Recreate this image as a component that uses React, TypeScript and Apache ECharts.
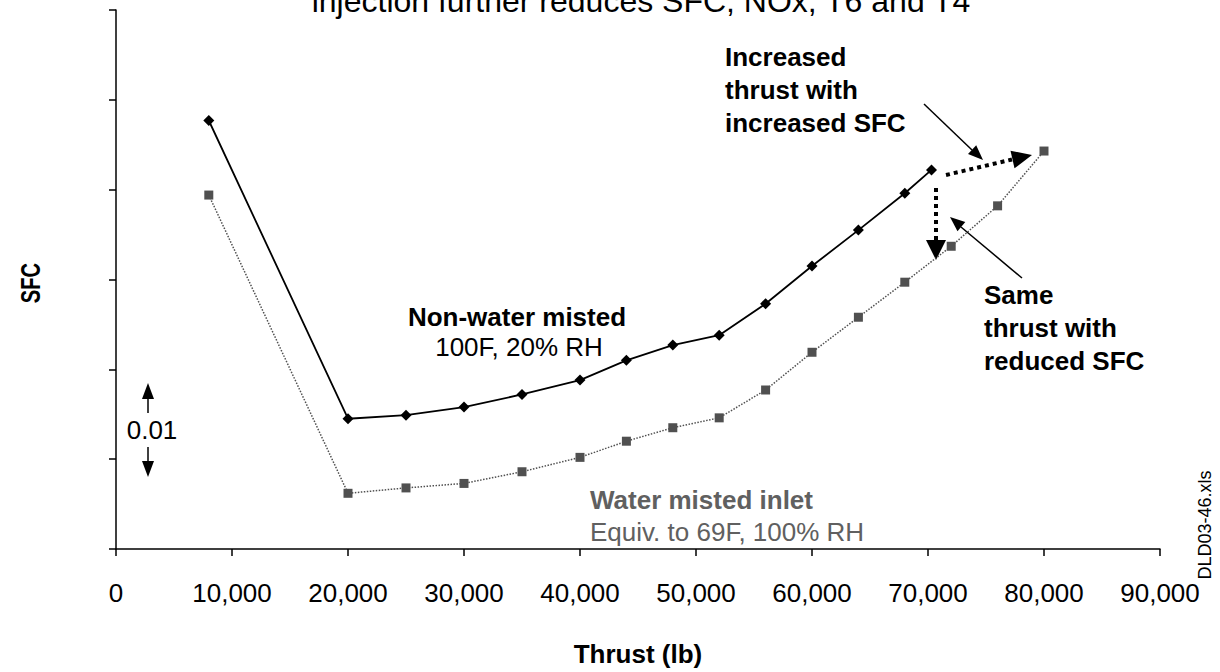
import React, { useEffect, useRef } from "react";
import * as echarts from "echarts";

const thrustDry = [8000, 20000, 25000, 30000, 35000, 40000, 44000, 48000, 52000, 56000, 60000, 64000, 68000, 70300];
const sfcDry = [0.3477, 0.3145, 0.3149, 0.3158, 0.3172, 0.3188, 0.321, 0.3227, 0.3238, 0.3273, 0.3315, 0.3355, 0.3396, 0.3422];
const thrustWet = [8000, 20000, 25000, 30000, 35000, 40000, 44000, 48000, 52000, 56000, 60000, 64000, 68000, 72000, 76000, 80000];
const sfcWet = [0.3394, 0.3062, 0.3068, 0.3073, 0.3086, 0.3102, 0.312, 0.3135, 0.3146, 0.3177, 0.3219, 0.3258, 0.3297, 0.3337, 0.3382, 0.3443];

const FONT = '"Liberation Sans", Arial, sans-serif';

function txt(text: string, x: number, y: number, opts: any = {}) {
  return {
    type: "text",
    x,
    y,
    rotation: opts.rotation || 0,
    scaleX: opts.scaleX || 1,
    scaleY: opts.scaleY || 1,
    style: {
      text,
      fill: opts.fill || "#000",
      font: `${opts.bold ? "bold " : ""}${opts.size || 26}px ${FONT}`,
      align: opts.align || "left",
      verticalAlign: "middle",
    },
  };
}

function line(x1: number, y1: number, x2: number, y2: number, w = 1.5, dash?: number[]) {
  return {
    type: "line",
    shape: { x1, y1, x2, y2 },
    style: { stroke: "#000", lineWidth: w, lineDash: dash || null },
  };
}

function tri(pts: number[][]) {
  return { type: "polygon", shape: { points: pts }, style: { fill: "#000" } };
}

export default function App() {
  const ref = useRef<HTMLDivElement>(null);
  useEffect(() => {
    if (!ref.current) return;
    const chart = echarts.init(ref.current, null, { renderer: "svg" });
    chart.setOption({
      animation: false,
      backgroundColor: "#fff",
      grid: { left: 116, right: 60, top: 10, bottom: 104 },
      xAxis: {
        type: "value",
        min: 0,
        max: 90000,
        interval: 10000,
        name: "Thrust (lb)",
        nameLocation: "middle",
        nameGap: 92,
        nameTextStyle: { fontFamily: FONT, fontWeight: "bold", fontSize: 26, color: "#000" },
        axisLine: { show: true, onZero: false, lineStyle: { color: "#000", width: 1.5 } },
        axisTick: { show: true, length: 7, lineStyle: { color: "#000", width: 1.5 } },
        axisLabel: {
          margin: 31,
          fontFamily: FONT,
          fontSize: 26,
          color: "#000",
          formatter: (v: number) => v.toLocaleString("en-US"),
        },
        splitLine: { show: false },
      },
      yAxis: {
        type: "value",
        min: 0.3,
        max: 0.36,
        interval: 0.01,
        axisLine: { show: true, lineStyle: { color: "#000", width: 1.5 } },
        axisTick: { show: true, length: 7, lineStyle: { color: "#000", width: 1.5 } },
        axisLabel: { show: false },
        splitLine: { show: false },
      },
      series: [
        {
          name: "Water misted inlet",
          type: "line",
          data: thrustWet.map((t, i) => [t, sfcWet[i]]),
          symbol: "rect",
          symbolSize: 9,
          itemStyle: { color: "#505050" },
          lineStyle: { color: "#505050", width: 1.5, type: "dotted" },
          z: 2,
        },
        {
          name: "Non-water misted",
          type: "line",
          data: thrustDry.map((t, i) => [t, sfcDry[i]]),
          symbol: "diamond",
          symbolSize: 11,
          itemStyle: { color: "#000" },
          lineStyle: { color: "#000", width: 1.8 },
          z: 3,
        },
      ],
      graphic: [
        txt("injection further reduces SFC, NOx, T6 and T4", 641, 1, { size: 32, align: "center" }),
        txt("SFC", 30, 283, { bold: true, size: 28, align: "center", rotation: Math.PI / 2, scaleX: 0.72 }),
        txt("DLD03-46.xls", 1205, 525, { size: 18, align: "center", rotation: Math.PI / 2 }),
        txt("Non-water misted", 517, 317, { bold: true, align: "center" }),
        txt("100F, 20% RH", 519, 347, { align: "center" }),
        txt("Water misted inlet", 590, 500, { bold: true, fill: "#606060" }),
        txt("Equiv. to 69F, 100% RH", 590, 532, { fill: "#606060" }),
        txt("Increased", 725, 57, { bold: true }),
        txt("thrust with", 725, 90, { bold: true }),
        txt("increased SFC", 725, 123, { bold: true }),
        txt("Same", 984, 295, { bold: true }),
        txt("thrust with", 984, 328, { bold: true }),
        txt("reduced SFC", 984, 361, { bold: true }),
        txt("0.01", 152, 430, { align: "center" }),
        // 0.01 arrows
        line(148, 413, 148, 397, 1.5),
        tri([[148, 383], [142, 399], [154, 399]]),
        line(148, 447, 148, 463, 1.5),
        tri([[148, 477], [142, 461], [154, 461]]),
        // thin arrow: increased SFC
        line(924, 104, 972, 150, 1.5),
        tri([[983, 160], [968, 154.1], [976.2, 145.3]]),
        // thin arrow: reduced SFC
        line(1022, 278, 961, 227, 1.5),
        tri([[950, 217], [965.3, 222.1], [957.5, 231.3]]),
        // dotted arrow: increased thrust
        line(946, 175, 1012, 159.5, 4, [4, 4]),
        tri([[1032, 155], [1014.5, 168.3], [1010.5, 150.7]]),
        // dotted arrow: reduced SFC
        line(936, 188, 936, 241, 4, [4, 4]),
        tri([[936, 260], [926, 240], [946, 240]]),
      ],
    });
    return () => chart.dispose();
  }, []);
  return (
    <div
      ref={ref}
      style={{ position: "fixed", left: 0, top: 0, width: 1220, height: 672, background: "#fff" }}
    />
  );
}
